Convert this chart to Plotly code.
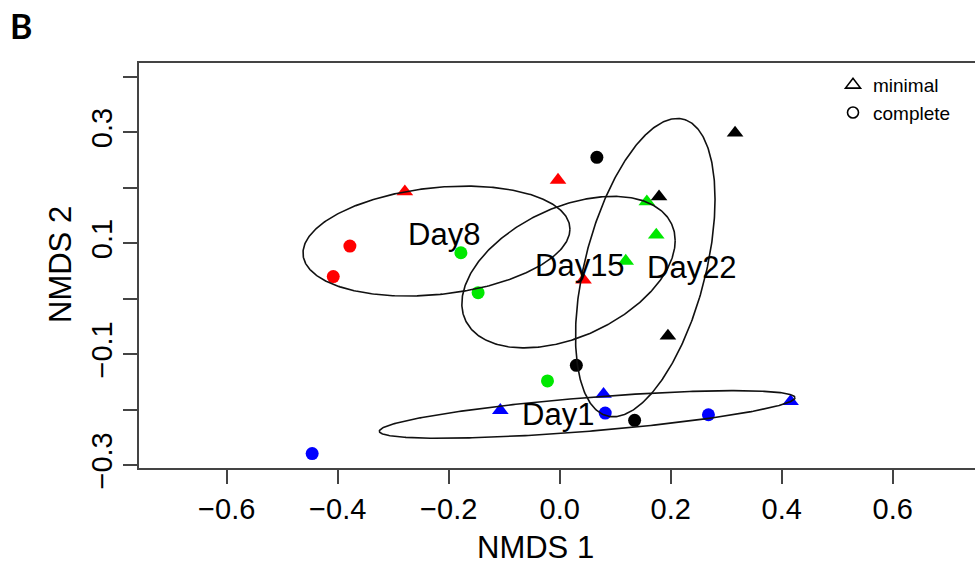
import numpy as np
import plotly.graph_objects as go

# ---------------- data ----------------
groups = ["Day1", "Day8", "Day15", "Day22"]
group_colors = ["#0000FF", "#FF0000", "#00E800", "#000000"]

day1_x = [-0.446, -0.107, 0.079, 0.082, 0.268, 0.416]
day1_y = [-0.279, -0.201, -0.172, -0.206, -0.209, -0.185]
day1_kind = ["complete", "minimal", "minimal", "complete", "complete", "minimal"]

day8_x = [-0.279, -0.378, -0.408, -0.003, 0.043]
day8_y = [0.193, 0.095, 0.040, 0.214, 0.034]
day8_kind = ["minimal", "complete", "complete", "minimal", "minimal"]

day15_x = [-0.178, -0.147, 0.157, 0.174, 0.119, -0.022]
day15_y = [0.083, 0.011, 0.175, 0.115, 0.068, -0.148]
day15_kind = ["complete", "complete", "minimal", "minimal", "minimal", "complete"]

day22_x = [0.067, 0.179, 0.316, 0.195, 0.030, 0.135]
day22_y = [0.255, 0.184, 0.299, -0.067, -0.120, -0.219]
day22_kind = ["complete", "minimal", "minimal", "minimal", "complete", "complete"]

# ellipse centres and covariance-like shape (sxx, syy, sxy) per group
ell_cx = [0.0495, -0.222, 0.0159, 0.1542]
ell_cy = [-0.2085, 0.104, 0.0481, 0.0562]
ell_sxx = [0.14025, 0.05784, 0.03694, 0.0158]
ell_syy = [0.00184, 0.00982, 0.01866, 0.07226]
ell_sxy = [0.0113, 0.0052, 0.0109, 0.0155]

# group label positions
label_x = [-0.003, -0.2085, 0.0366, 0.2378]
label_y = [-0.2078, 0.1166, 0.0602, 0.0562]

x_ticks = [-0.6, -0.4, -0.2, 0.0, 0.2, 0.4, 0.6]
x_ticktext = ["\u22120.6", "\u22120.4", "\u22120.2", "0.0", "0.2", "0.4", "0.6"]
y_ticks = [-0.3, -0.2, -0.1, 0.0, 0.1, 0.2, 0.3, 0.4]
y_ticktext = ["\u22120.3", "", "\u22120.1", "", "0.1", "", "0.3", ""]

legend_labels = ["minimal", "complete"]

# ---------------- figure ----------------
FONT = "Liberation Sans, Arial, sans-serif"
fig = go.Figure()

xs = [day1_x, day8_x, day15_x, day22_x]
ys = [day1_y, day8_y, day15_y, day22_y]
kinds = [day1_kind, day8_kind, day15_kind, day22_kind]

for g, col, gx, gy, gk in zip(groups, group_colors, xs, ys, kinds):
    symbols = ["triangle-up" if k == "minimal" else "circle" for k in gk]
    sizes = [14.5 if k == "minimal" else 13 for k in gk]
    fig.add_trace(go.Scatter(
        x=gx, y=gy, mode="markers", name=g, showlegend=False,
        marker=dict(color=col, symbol=symbols, size=sizes, opacity=1, line=dict(width=0)),
    ))

t = np.linspace(0, 2 * np.pi, 400)
for i, g in enumerate(groups):
    a = np.sqrt(ell_sxx[i])
    b = ell_sxy[i] / a
    c = np.sqrt(ell_syy[i] - b * b)
    ex = ell_cx[i] + a * np.cos(t)
    ey = ell_cy[i] + b * np.cos(t) + c * np.sin(t)
    fig.add_trace(go.Scatter(
        x=ex, y=ey, mode="lines", showlegend=False, hoverinfo="skip",
        line=dict(color="#111111", width=1.6),
    ))

for i, g in enumerate(groups):
    fig.add_annotation(x=label_x[i], y=label_y[i], xref="x", yref="y", text=g,
                       showarrow=False, xanchor="center", yanchor="middle",
                       font=dict(family=FONT, size=31, color="black"))

# legend entries
fig.add_trace(go.Scatter(x=[None], y=[None], mode="markers", name=legend_labels[0],
                         marker=dict(symbol="triangle-up-open", size=13, color="black",
                                     line=dict(width=1.6, color="black"))))
fig.add_trace(go.Scatter(x=[None], y=[None], mode="markers", name=legend_labels[1],
                         marker=dict(symbol="circle-open", size=11, color="black",
                                     line=dict(width=1.6, color="black"))))

axis_col = "#444444"
fig.update_xaxes(
    range=[-0.758, 0.7483], tickvals=x_ticks, ticktext=x_ticktext,
    ticks="outside", ticklen=14, tickwidth=1.5, tickcolor=axis_col,
    showline=True, linecolor=axis_col, linewidth=1.5, mirror=True,
    showgrid=False, zeroline=False,
    tickfont=dict(family=FONT, size=29, color="black"),
)
fig.update_yaxes(
    range=[-0.305, 0.425], tickvals=y_ticks, ticktext=y_ticktext,
    ticks="outside", ticklen=14, tickwidth=1.5, tickcolor=axis_col,
    showline=True, linecolor=axis_col, linewidth=1.5, mirror=False,
    showgrid=False, zeroline=False, tickangle=-90,
    tickfont=dict(family=FONT, size=29, color="black"),
)

fig.add_annotation(x=(535 - 139) / 836, y=(468 - 547) / 405, xref="paper", yref="paper",
                   text="NMDS 1", showarrow=False, xanchor="center", yanchor="middle",
                   font=dict(family=FONT, size=31, color="black"))
fig.add_annotation(x=(60 - 139) / 836, y=(468 - 265) / 405, xref="paper", yref="paper",
                   text="NMDS 2", showarrow=False, textangle=-90,
                   xanchor="center", yanchor="middle",
                   font=dict(family=FONT, size=31, color="black"))
fig.add_annotation(x=(20.5 - 139) / 836, y=(468 - 26) / 405, xref="paper", yref="paper",
                   text="<b>B</b>", showarrow=False, xanchor="center", yanchor="middle",
                   font=dict(family="Lato, sans-serif", size=34, color="black"))

fig.update_layout(
    width=975, height=565,
    margin=dict(l=139, r=0, t=63, b=97),
    paper_bgcolor="white", plot_bgcolor="white",
    showlegend=True,
    legend=dict(x=(833 - 139) / 836, y=(468 - 66) / 405, xanchor="left", yanchor="top",
                bgcolor="rgba(0,0,0,0)", borderwidth=0, tracegroupgap=0,
                font=dict(family=FONT, size=19, color="black"), itemsizing="trace"),
)

fig.write_html("out.html")
